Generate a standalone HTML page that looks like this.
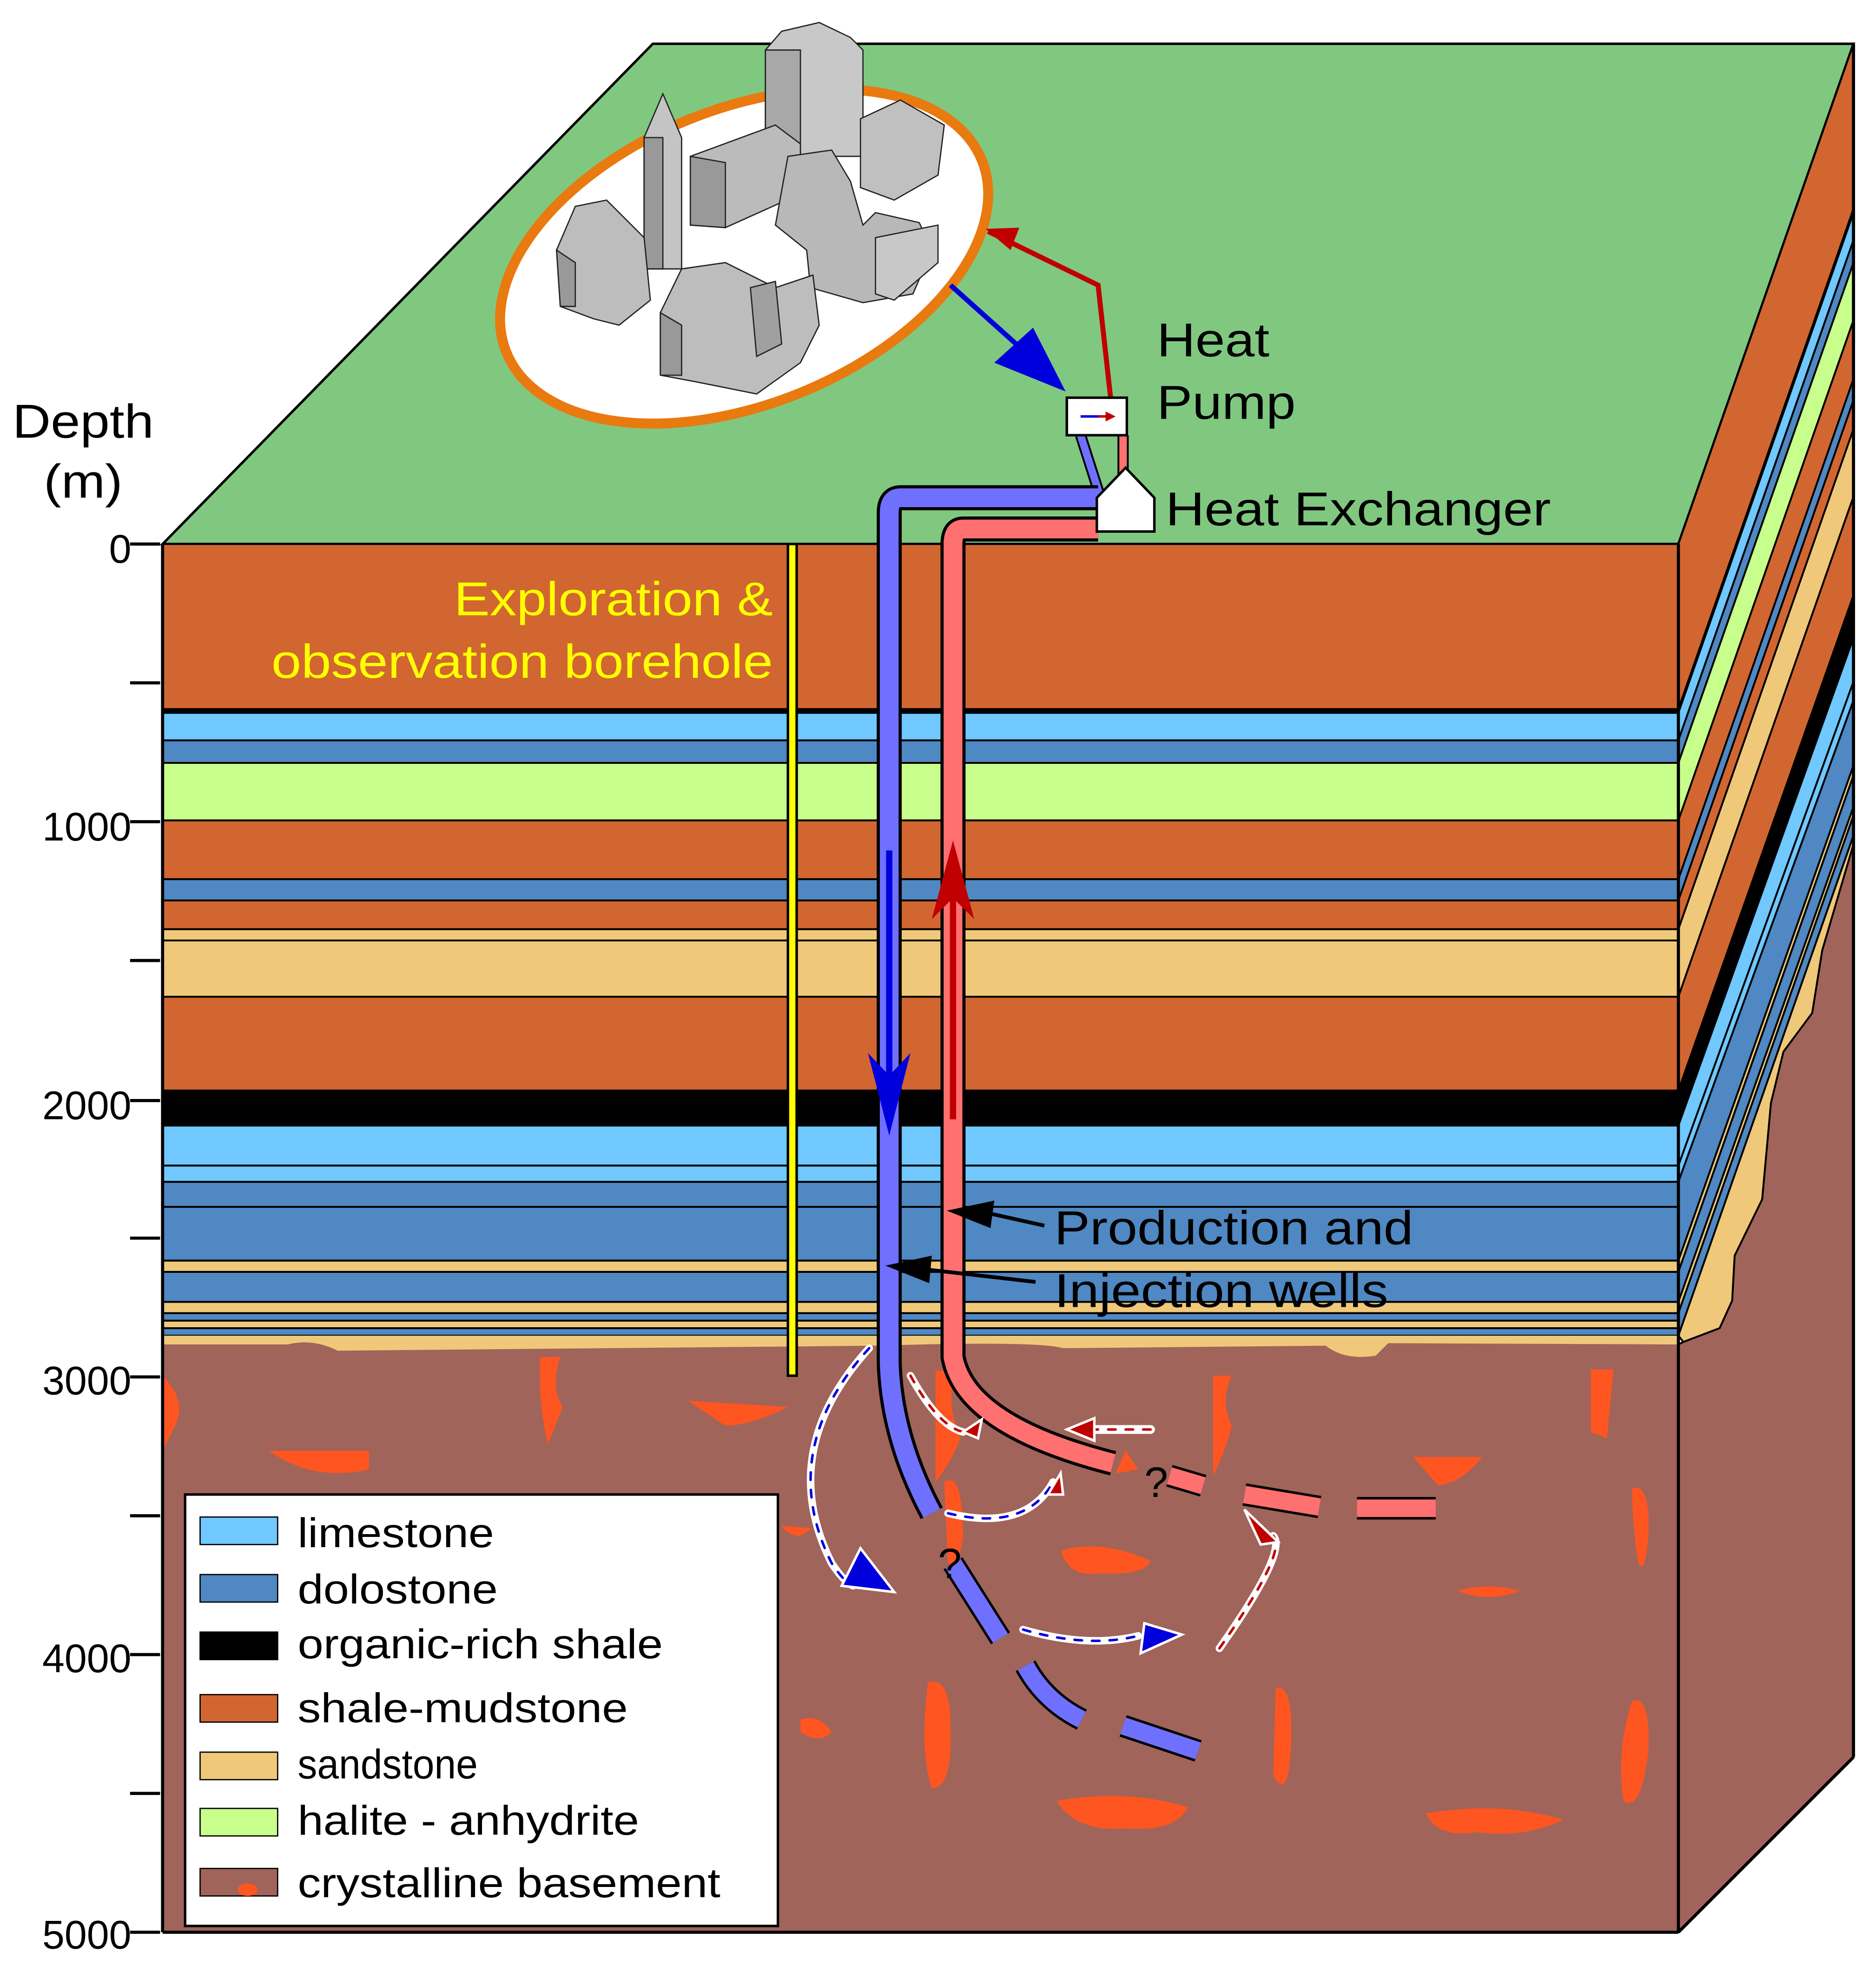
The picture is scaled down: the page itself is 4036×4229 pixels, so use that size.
<!DOCTYPE html>
<html><head><meta charset="utf-8"><style>
html,body{margin:0;padding:0;background:#fff;}
svg{display:block;}
text{font-family:"Liberation Sans",sans-serif;}
</style></head><body>
<svg width="4036" height="4229" viewBox="0 0 1500 1572" preserveAspectRatio="none" xmlns="http://www.w3.org/2000/svg">
<!-- top face -->
<polygon points="130,435 522,35 1482,35 1342,435" fill="#80c880" stroke="#000" stroke-width="2"/>
<!-- front layers -->
<g stroke="#000" stroke-width="1.5">
<rect x="130" y="435" width="1212" height="132" fill="#d26631"/>
<rect x="130" y="567" width="1212" height="3" fill="#000"/>
<rect x="130" y="570" width="1212" height="22" fill="#70c8ff"/>
<rect x="130" y="592" width="1212" height="18" fill="#4f88c2"/>
<rect x="130" y="610" width="1212" height="46" fill="#c8ff8c"/>
<rect x="130" y="656" width="1212" height="47" fill="#d26631"/>
<rect x="130" y="703" width="1212" height="17" fill="#4f88c2"/>
<rect x="130" y="720" width="1212" height="23" fill="#d26631"/>
<rect x="130" y="743" width="1212" height="9" fill="#f0c87a"/>
<rect x="130" y="752" width="1212" height="45" fill="#f0c87a"/>
<rect x="130" y="797" width="1212" height="75" fill="#d26631"/>
<rect x="130" y="872" width="1212" height="28" fill="#000"/>
<rect x="130" y="900" width="1212" height="32" fill="#70c8ff"/>
<rect x="130" y="932" width="1212" height="13" fill="#70c8ff"/>
<rect x="130" y="945" width="1212" height="20" fill="#4f88c2"/>
<rect x="130" y="965" width="1212" height="43" fill="#4f88c2"/>
<rect x="130" y="1008" width="1212" height="9" fill="#f0c87a"/>
<rect x="130" y="1017" width="1212" height="24" fill="#4f88c2"/>
<rect x="130" y="1041" width="1212" height="9" fill="#f0c87a"/>
<rect x="130" y="1050" width="1212" height="6" fill="#4f88c2"/>
<rect x="130" y="1056" width="1212" height="6" fill="#f0c87a"/>
<rect x="130" y="1062" width="1212" height="6" fill="#4f88c2"/>
</g>
<rect x="130" y="1068" width="1212" height="20" fill="#f0c87a"/>
<!-- basement -->
<path d="M130,1075 L230,1075 Q250,1070 270,1080 L700,1076 Q830,1072 850,1078 L1060,1076 Q1075,1088 1100,1084 L1110,1074 L1342,1075 L1342,1545 L130,1545 z" fill="#a0645a"/>
<!-- right face -->
<g stroke="#000" stroke-width="1.5" stroke-linejoin="round">
<polygon points="1342,435 1482,35 1482,167 1342,567" fill="#d26631"/>
<polygon points="1342,567 1482,167 1482,170 1342,570" fill="#000"/>
<polygon points="1342,570 1482,170 1482,192 1342,592" fill="#70c8ff"/>
<polygon points="1342,592 1482,192 1482,210 1342,610" fill="#4f88c2"/>
<polygon points="1342,610 1482,210 1482,256 1342,656" fill="#c8ff8c"/>
<polygon points="1342,656 1482,256 1482,303 1342,703" fill="#d26631"/>
<polygon points="1342,703 1482,303 1482,320 1342,720" fill="#4f88c2"/>
<polygon points="1342,720 1482,320 1482,343 1342,743" fill="#d26631"/>
<polygon points="1342,743 1482,343 1482,397 1342,797" fill="#f0c87a"/>
<polygon points="1342,797 1482,397 1482,476 1342,872" fill="#d26631"/>
<polygon points="1342,872 1482,476 1482,510 1342,900" fill="#000"/>
<polygon points="1342,900 1482,510 1482,545 1342,932" fill="#70c8ff"/>
<polygon points="1342,932 1482,545 1482,560 1342,945" fill="#70c8ff"/>
<polygon points="1342,945 1482,560 1482,612 1342,1008" fill="#4f88c2"/>
<polygon points="1342,1008 1482,612 1482,620 1342,1017" fill="#f0c87a"/>
<polygon points="1342,1017 1482,620 1482,645 1342,1041" fill="#4f88c2"/>
<polygon points="1342,1041 1482,645 1482,652 1342,1050" fill="#f0c87a"/>
<polygon points="1342,1050 1482,652 1482,668 1342,1068" fill="#4f88c2"/>
<polygon points="1342,1068 1482,668 1482,675 1457,760 1449,810 1426,841 1416,882 1409,959 1387,1004 1385,1040 1375,1062 1346,1073" fill="#f0c87a"/>
<polygon points="1346,1073 1375,1062 1385,1040 1387,1004 1409,959 1416,882 1426,841 1449,810 1457,760 1482,675 1482,1405 1342,1545 1342,1075" fill="#a0645a"/>
</g>
<!-- orange blobs -->
<g fill="#ff5520">
<path d="M130,1100 Q150,1120 140,1140 L130,1160 z"/>
<path d="M432,1085 L448,1085 Q440,1110 450,1125 L438,1155 Q430,1120 432,1085 z"/>
<path d="M215,1160 L295,1160 L295,1175 Q250,1185 215,1160 z"/>
<path d="M550,1120 L630,1125 Q600,1140 580,1140 z"/>
<path d="M748,1096 L765,1096 Q755,1120 768,1150 Q760,1170 748,1185 z"/>
<path d="M848,1240 Q880,1230 920,1248 Q915,1260 880,1258 Q855,1262 848,1240 z"/>
<path d="M755,1185 Q770,1175 770,1230 Q765,1260 758,1250 z"/>
<path d="M970,1100 L985,1100 Q975,1120 985,1140 Q980,1160 970,1180 z"/>
<path d="M1130,1165 L1185,1165 Q1170,1185 1150,1188 z"/>
<path d="M1165,1272 Q1190,1265 1215,1272 Q1190,1282 1165,1272 z"/>
<path d="M1272,1095 L1290,1095 L1285,1150 L1272,1145 z"/>
<path d="M1305,1190 Q1320,1185 1318,1230 Q1315,1260 1310,1250 Q1305,1220 1305,1190 z"/>
<path d="M1305,1360 Q1320,1355 1318,1400 Q1312,1450 1298,1440 Q1292,1400 1305,1360 z"/>
<path d="M742,1345 Q760,1340 760,1380 Q762,1430 745,1430 Q735,1400 742,1345 z"/>
<path d="M1020,1350 Q1035,1345 1032,1400 Q1030,1440 1018,1420 z"/>
<path d="M845,1440 Q900,1430 950,1445 Q940,1465 900,1462 Q860,1465 845,1440 z"/>
<path d="M1140,1450 Q1200,1440 1250,1455 Q1220,1470 1180,1465 Q1150,1470 1140,1450 z"/>
<path d="M640,1375 Q655,1370 665,1385 Q655,1395 640,1385 z"/>
<path d="M625,1220 L650,1222 L640,1228 Q630,1228 625,1220 z"/>
<path d="M900,1160 L910,1175 L892,1178 z"/>
</g>
<!-- outline box edges -->
<g fill="none" stroke="#000" stroke-width="2.5">
<line x1="130" y1="435" x2="130" y2="1545"/>
<line x1="1342" y1="435" x2="1342" y2="1545"/>
<line x1="1482" y1="35" x2="1482" y2="1405"/>
<line x1="1342" y1="1545" x2="1482" y2="1405"/>
<line x1="130" y1="1545" x2="1342" y2="1545"/>
</g>
<!-- depth axis -->
<g stroke="#000" stroke-width="2.5">
<line x1="104" y1="435" x2="128" y2="435"/><line x1="104" y1="546" x2="128" y2="546"/>
<line x1="104" y1="657" x2="128" y2="657"/><line x1="104" y1="768" x2="128" y2="768"/>
<line x1="104" y1="880" x2="128" y2="880"/><line x1="104" y1="990" x2="128" y2="990"/>
<line x1="104" y1="1101" x2="128" y2="1101"/><line x1="104" y1="1212" x2="128" y2="1212"/>
<line x1="104" y1="1323" x2="128" y2="1323"/><line x1="104" y1="1434" x2="128" y2="1434"/>
<line x1="104" y1="1545" x2="128" y2="1545"/>
</g>
<g font-size="32" text-anchor="end" fill="#000">
<text x="105" y="450">0</text><text x="105" y="672">1000</text><text x="105" y="895">2000</text>
<text x="105" y="1115">3000</text><text x="105" y="1337">4000</text><text x="105" y="1558">5000</text>
</g>
<text x="10" y="350" font-size="38" textLength="113" lengthAdjust="spacingAndGlyphs">Depth</text>
<text x="35" y="398" font-size="38" textLength="63" lengthAdjust="spacingAndGlyphs">(m)</text>
<!-- city -->
<ellipse cx="595" cy="205" rx="205" ry="118" transform="rotate(-22 595 205)" fill="#fff" stroke="#e87a10" stroke-width="8"/>
<g stroke="#222" stroke-width="1" fill="#b8b8b8">
<polygon points="612,40 625,25 655,18 680,30 690,40 690,125 612,125" fill="#c8c8c8"/>
<polygon points="612,40 640,40 640,125 612,125" fill="#a8a8a8"/>
<polygon points="515,110 530,75 545,110 545,215 515,215" fill="#c4c4c4"/>
<polygon points="515,110 530,110 530,215 515,215" fill="#999"/>
<polygon points="552,125 620,100 640,115 640,155 580,182 552,180" fill="#bbb"/>
<polygon points="552,125 580,130 580,182 552,180" fill="#999"/>
<polygon points="688,95 720,80 755,100 750,140 715,160 688,150" fill="#c0c0c0"/>
<polygon points="630,125 665,120 680,145 690,180 700,170 735,178 745,200 730,235 690,242 648,230 645,200 620,180" fill="#b8b8b8"/>
<polygon points="700,190 750,180 750,210 715,240 700,235" fill="#c8c8c8"/>
<polygon points="445,200 460,165 485,160 515,190 520,240 495,260 475,255 448,245" fill="#bdbdbd"/>
<polygon points="445,200 460,210 460,245 448,245" fill="#999"/>
<polygon points="528,250 545,215 580,210 620,230 650,220 655,260 640,290 605,315 580,310 555,305 528,300" fill="#bdbdbd"/>
<polygon points="528,250 545,260 545,300 528,300" fill="#999"/>
<polygon points="600,230 620,225 625,275 605,285" fill="#a0a0a0"/>
</g>
<!-- surface arrows -->
<polyline points="888,318 878,228 790,185" fill="none" stroke="#c00000" stroke-width="4"/>
<polygon points="788,183 815,182 808,200" fill="#c00000"/>
<polyline points="760,228 818,280 842,305" fill="none" stroke="#0000dd" stroke-width="4"/>
<polygon points="852,313 795,290 826,262" fill="#0000dd"/>
<!-- heat pump -->
<line x1="864" y1="348" x2="880" y2="398" stroke="#000" stroke-width="9"/>
<line x1="864" y1="348" x2="880" y2="398" stroke="#7070ff" stroke-width="6"/>
<line x1="898" y1="348" x2="898" y2="380" stroke="#000" stroke-width="9"/>
<line x1="898" y1="348" x2="898" y2="380" stroke="#ff7070" stroke-width="6"/>
<rect x="853" y="318" width="48" height="30" fill="#fff" stroke="#000" stroke-width="2"/>
<line x1="864" y1="333" x2="886" y2="333" stroke="#0000dd" stroke-width="2"/>
<line x1="878" y1="333" x2="890" y2="333" stroke="#c00000" stroke-width="2"/>
<polygon points="892,333 884,329 884,337" fill="#c00000"/>
<text x="925" y="285" font-size="38" textLength="90" lengthAdjust="spacingAndGlyphs">Heat</text>
<text x="925" y="335" font-size="38" textLength="111" lengthAdjust="spacingAndGlyphs">Pump</text>
<!-- wells -->
<path d="M878,398 L720,398 Q711,398 711,410 L711,1090 Q713,1150 745,1210" fill="none" stroke="#000" stroke-width="20"/>
<path d="M878,398 L720,398 Q711,398 711,410 L711,1090 Q713,1150 745,1210" fill="none" stroke="#7070ff" stroke-width="15"/>
<path d="M878,423 L770,423 Q762,423 762,435 L762,1085 Q772,1140 890,1170" fill="none" stroke="#000" stroke-width="20"/>
<path d="M878,423 L770,423 Q762,423 762,435 L762,1085 Q772,1140 890,1170" fill="none" stroke="#ff7070" stroke-width="15"/>
<g stroke-width="18" fill="none">
<path d="M762,1250 L800,1310" stroke="#000"/><path d="M762,1250 L800,1310" stroke="#7070ff" stroke-width="14"/>
<path d="M820,1332 Q835,1360 865,1375" stroke="#000"/><path d="M820,1332 Q835,1360 865,1375" stroke="#7070ff" stroke-width="14"/>
<path d="M898,1380 L958,1400" stroke="#000"/><path d="M898,1380 L958,1400" stroke="#7070ff" stroke-width="14"/>
<path d="M935,1180 L962,1188" stroke="#000"/><path d="M935,1180 L962,1188" stroke="#ff7070" stroke-width="14"/>
<path d="M995,1195 L1055,1205" stroke="#000"/><path d="M995,1195 L1055,1205" stroke="#ff7070" stroke-width="14"/>
<path d="M1085,1206 L1148,1206" stroke="#000"/><path d="M1085,1206 L1148,1206" stroke="#ff7070" stroke-width="14"/>
</g>
<text x="915" y="1197" font-size="34">?</text>
<text x="750" y="1262" font-size="34">?</text>
<!-- heat exchanger -->
<polygon points="877,398 900,374 923,398 923,425 877,425" fill="#fff" stroke="#000" stroke-width="2"/>
<text x="932" y="420" font-size="38" textLength="308" lengthAdjust="spacingAndGlyphs">Heat Exchanger</text>
<!-- in-well arrows -->
<line x1="711" y1="680" x2="711" y2="870" stroke="#0000dd" stroke-width="5"/>
<polygon points="711,908 694,842 711,860 728,842" fill="#0000dd"/>
<line x1="762" y1="895" x2="762" y2="710" stroke="#c00000" stroke-width="5"/>
<polygon points="762,672 745,735 762,718 779,735" fill="#c00000"/>
<!-- borehole -->
<rect x="630" y="435" width="7" height="665" fill="#ffff00" stroke="#000" stroke-width="2"/>
<text x="363" y="492" font-size="38" fill="#ffff00" textLength="255" lengthAdjust="spacingAndGlyphs">Exploration &amp;</text>
<text x="217" y="542" font-size="38" fill="#ffff00" textLength="401" lengthAdjust="spacingAndGlyphs">observation borehole</text>
<!-- labels -->
<line x1="835" y1="980" x2="790" y2="970" stroke="#000" stroke-width="3"/>
<polygon points="757,968 795,960 792,982" fill="#000"/>
<line x1="828" y1="1025" x2="740" y2="1015" stroke="#000" stroke-width="3"/>
<polygon points="708,1012 745,1004 743,1026" fill="#000"/>
<text x="843" y="995" font-size="38" textLength="287" lengthAdjust="spacingAndGlyphs">Production and</text>
<text x="843" y="1045" font-size="38" textLength="267" lengthAdjust="spacingAndGlyphs">Injection wells</text>
<!-- flow arrows -->
<g fill="none" stroke-linecap="round">
<path d="M695,1078 Q620,1160 665,1250 Q675,1265 682,1268" stroke="#fff" stroke-width="6"/>
<path d="M695,1078 Q620,1160 665,1250 Q675,1265 682,1268" stroke="#0000dd" stroke-width="2" stroke-dasharray="6,8"/>
<path d="M728,1100 Q750,1140 770,1145" stroke="#fff" stroke-width="6"/>
<path d="M728,1100 Q750,1140 770,1145" stroke="#c00000" stroke-width="2" stroke-dasharray="6,8"/>
<path d="M758,1210 Q820,1225 842,1185" stroke="#fff" stroke-width="6"/>
<path d="M758,1210 Q820,1225 842,1185" stroke="#0000dd" stroke-width="2" stroke-dasharray="6,8"/>
<path d="M818,1303 Q870,1318 910,1308" stroke="#fff" stroke-width="6"/>
<path d="M818,1303 Q870,1318 910,1308" stroke="#0000dd" stroke-width="2" stroke-dasharray="6,8"/>
<path d="M975,1318 Q1030,1240 1018,1228" stroke="#fff" stroke-width="6"/>
<path d="M975,1318 Q1030,1240 1018,1228" stroke="#c00000" stroke-width="2" stroke-dasharray="6,8"/>
<path d="M920,1143 L875,1143" stroke="#fff" stroke-width="7"/>
<path d="M920,1143 L875,1143" stroke="#c00000" stroke-width="2" stroke-dasharray="6,8"/>
</g>
<g stroke="#fff" stroke-width="2">
<polygon points="715,1273 673,1268 688,1238" fill="#0000dd"/>
<polygon points="945,1307 915,1298 912,1322" fill="#0000dd"/>
<polygon points="785,1135 770,1145 782,1150" fill="#c00000"/>
<polygon points="848,1178 838,1195 850,1195" fill="#c00000"/>
<polygon points="995,1207 1022,1233 1008,1235" fill="#c00000"/>
<polygon points="853,1143 875,1134 875,1152" fill="#c00000"/>
</g>
<!-- legend -->
<rect x="148" y="1195" width="474" height="345" fill="#fff" stroke="#000" stroke-width="2"/>
<g stroke="#000" stroke-width="1">
<rect x="160" y="1213" width="62" height="22" fill="#70c8ff"/>
<rect x="160" y="1259" width="62" height="22" fill="#4f88c2"/>
<rect x="160" y="1305" width="62" height="22" fill="#000"/>
<rect x="160" y="1355" width="62" height="22" fill="#d26631"/>
<rect x="160" y="1401" width="62" height="22" fill="#f0c87a"/>
<rect x="160" y="1446" width="62" height="22" fill="#c8ff8c"/>
<rect x="160" y="1494" width="62" height="22" fill="#a0645a"/>
</g>
<ellipse cx="198" cy="1511" rx="8" ry="5" fill="#ff5520"/>
<g font-size="33" fill="#000">
<text x="238" y="1237" textLength="157" lengthAdjust="spacingAndGlyphs">limestone</text>
<text x="238" y="1282" textLength="160" lengthAdjust="spacingAndGlyphs">dolostone</text>
<text x="238" y="1326" textLength="292" lengthAdjust="spacingAndGlyphs">organic-rich shale</text>
<text x="238" y="1377" textLength="264" lengthAdjust="spacingAndGlyphs">shale-mudstone</text>
<text x="238" y="1422" textLength="144" lengthAdjust="spacingAndGlyphs">sandstone</text>
<text x="238" y="1467" textLength="273" lengthAdjust="spacingAndGlyphs">halite - anhydrite</text>
<text x="238" y="1517" textLength="338" lengthAdjust="spacingAndGlyphs">crystalline basement</text>
</g>
</svg>
</body></html>
